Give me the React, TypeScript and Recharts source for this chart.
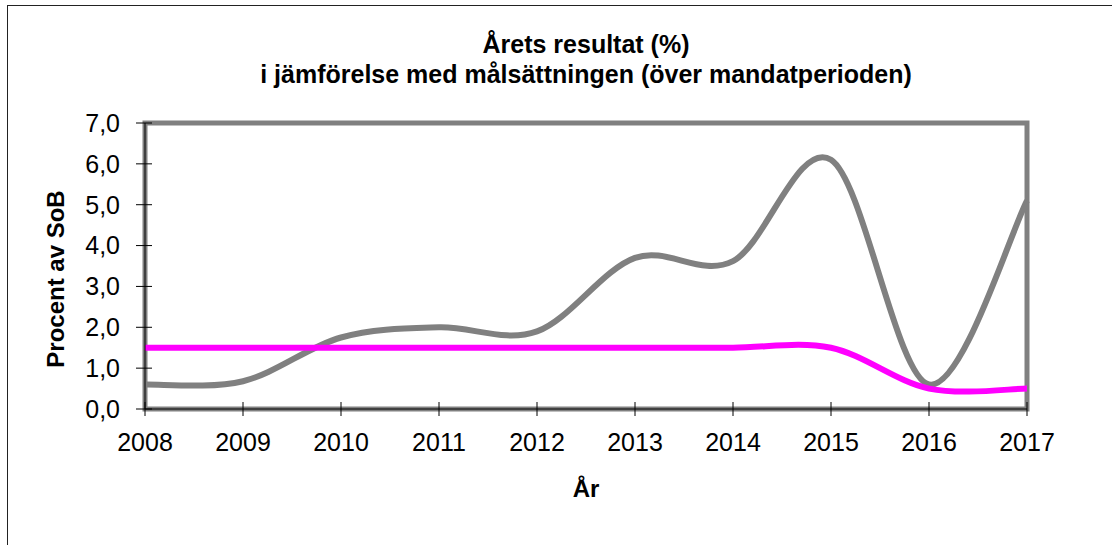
import { LineChart, Line, XAxis, YAxis, ReferenceArea } from "recharts";

const years = [2008, 2009, 2010, 2011, 2012, 2013, 2014, 2015, 2016, 2017];
const resultat = [0.6, 0.68, 1.75, 2.0, 1.9, 3.7, 3.62, 6.1, 0.6, 5.1];
const malsattning = [1.5, 1.5, 1.5, 1.5, 1.5, 1.5, 1.5, 1.5, 0.5, 0.5];
const yTicks = [0, 1, 2, 3, 4, 5, 6, 7];

const data = years.map((year, i) => ({
  year,
  resultat: resultat[i],
  mal: malsattning[i],
}));

// Excel-style smoothed line (Catmull-Rom through every point)
const smooth = (context: any) => {
  let pts: number[][] = [];
  return {
    areaStart() {},
    areaEnd() {},
    lineStart() {
      pts = [];
    },
    lineEnd() {
      if (!pts.length) return;
      context.moveTo(pts[0][0], pts[0][1]);
      for (let i = 0; i < pts.length - 1; i++) {
        const p0 = pts[Math.max(i - 1, 0)];
        const p1 = pts[i];
        const p2 = pts[i + 1];
        const p3 = pts[Math.min(i + 2, pts.length - 1)];
        context.bezierCurveTo(
          p1[0] + (p2[0] - p0[0]) / 6,
          p1[1] + (p2[1] - p0[1]) / 6,
          p2[0] - (p3[0] - p1[0]) / 6,
          p2[1] - (p3[1] - p1[1]) / 6,
          p2[0],
          p2[1]
        );
      }
    },
    point(x: number, y: number) {
      pts.push([+x, +y]);
    },
  };
};

const font = "'Liberation Sans', Arial, sans-serif";
const tickFont = 25;

// ticks that cross the axis line, like the original
const XTick = (props: any) => {
  const { x, y, payload } = props;
  const axisY = y - 24;
  return (
    <g>
      <line x1={x} x2={x} y1={axisY - 7} y2={axisY + 7} stroke="#000" />
      <text
        x={x}
        y={y}
        dy="0.71em"
        textAnchor="middle"
        fill="#000"
        fontSize={tickFont}
        fontFamily={font}
      >
        {payload.value}
      </text>
    </g>
  );
};

const YTick = (props: any) => {
  const { x, y, payload } = props;
  const axisX = x + 25;
  return (
    <g>
      <line x1={axisX - 9} x2={axisX + 7} y1={y} y2={y} stroke="#000" />
      <text
        x={x}
        y={y}
        dy="0.355em"
        textAnchor="end"
        fill="#000"
        fontSize={tickFont}
        fontFamily={font}
      >
        {payload.value.toFixed(1).replace(".", ",")}
      </text>
    </g>
  );
};

export default function App() {
  return (
    <div
      style={{
        position: "absolute",
        left: 0,
        top: 0,
        width: 1112,
        height: 545,
        overflow: "hidden",
        background: "#fff",
        fontFamily: font,
      }}
    >
      <div
        style={{
          position: "absolute",
          left: 7,
          top: 5,
          width: 1200,
          height: 600,
          borderLeft: "1px solid #222",
          borderTop: "1px solid #222",
        }}
      />
      <div
        style={{
          position: "absolute",
          left: 0,
          width: 1172,
          top: 29,
          textAlign: "center",
          fontWeight: "bold",
          fontSize: 25,
          lineHeight: "30px",
          color: "#000",
        }}
      >
        Årets resultat (%)
        <br />
        i jämförelse med målsättningen (över mandatperioden)
      </div>
      <div
        style={{
          position: "absolute",
          left: 56,
          top: 279,
          transform: "translate(-50%, -50%) rotate(-90deg)",
          whiteSpace: "nowrap",
          fontWeight: "bold",
          fontSize: 24,
          lineHeight: 1,
          color: "#000",
        }}
      >
        Procent av SoB
      </div>
      <div
        style={{
          position: "absolute",
          left: 586,
          top: 477,
          transform: "translateX(-50%)",
          fontWeight: "bold",
          fontSize: 24,
          lineHeight: 1,
          color: "#000",
        }}
      >
        År
      </div>
      <div style={{ position: "absolute", left: 0, top: 0 }}>
        <LineChart
          width={1112}
          height={545}
          data={data}
          margin={{ top: 123, right: 85, left: 85, bottom: 106 }}
        >
          <ReferenceArea
            x1={2008}
            x2={2017}
            y1={0}
            y2={7}
            fill="none"
            stroke="#808080"
            strokeWidth={5}
            ifOverflow="visible"
          />
          <XAxis
            dataKey="year"
            type="number"
            domain={[2008, 2017]}
            ticks={years}
            interval={0}
            height={30}
            tickSize={0}
            tickMargin={24}
            tickLine={false}
            stroke="#000"
            tick={<XTick />}
          />
          <YAxis
            domain={[0, 7]}
            ticks={yTicks}
            interval={0}
            width={60}
            tickSize={0}
            tickMargin={25}
            tickLine={false}
            stroke="#000"
            tick={<YTick />}
          />
          <Line
            dataKey="resultat"
            type={smooth as any}
            stroke="#808080"
            strokeWidth={6}
            dot={false}
            isAnimationActive={false}
          />
          <Line
            dataKey="mal"
            type={smooth as any}
            stroke="#ff00ff"
            strokeWidth={6}
            dot={false}
            isAnimationActive={false}
          />
        </LineChart>
      </div>
    </div>
  );
}
